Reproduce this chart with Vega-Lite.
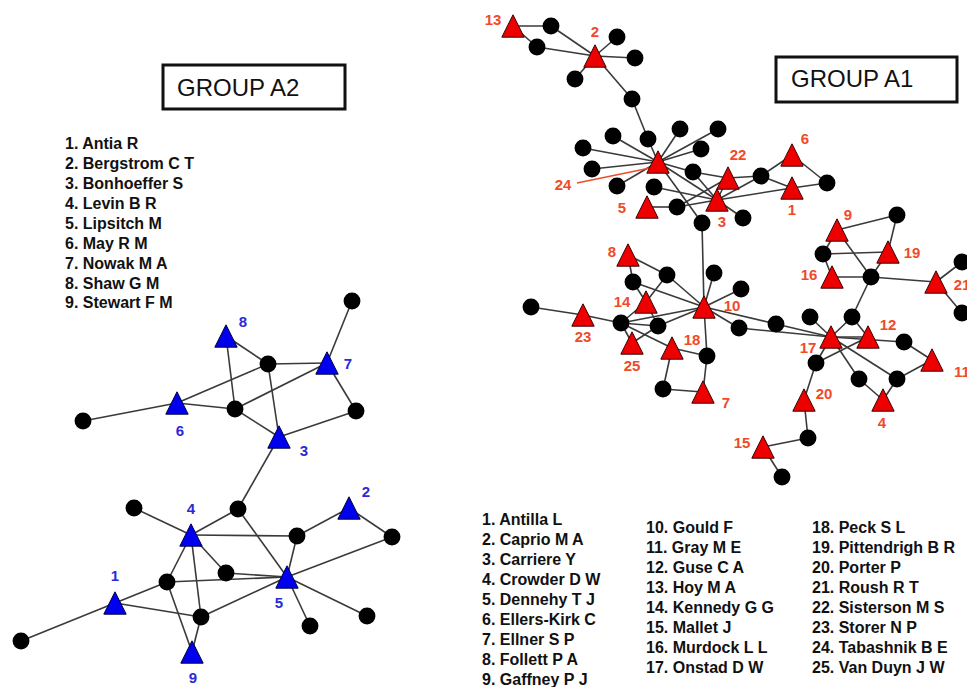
{
  "$schema": "https://vega.github.io/schema/vega-lite/v6.json",
  "width": 967,
  "height": 687,
  "autosize": {"type": "none"},
  "padding": 0,
  "background": "white",
  "config": {"view": {"stroke": null}, "axis": {"disable": true}},
  "datasets": {
    "nodes": [
      {"id": "b1", "x": 352, "y": 301, "k": "dot"},
      {"id": "bT8", "x": 226, "y": 336, "k": "A2"},
      {"id": "b2", "x": 268, "y": 364, "k": "dot"},
      {"id": "bT7", "x": 327, "y": 363, "k": "A2"},
      {"id": "bT6", "x": 177, "y": 403, "k": "A2"},
      {"id": "b3", "x": 235, "y": 409, "k": "dot"},
      {"id": "b4", "x": 356, "y": 411, "k": "dot"},
      {"id": "b5", "x": 83, "y": 421, "k": "dot"},
      {"id": "bT3", "x": 279, "y": 437, "k": "A2"},
      {"id": "b6", "x": 238, "y": 509, "k": "dot"},
      {"id": "bT2", "x": 349, "y": 508, "k": "A2"},
      {"id": "b7", "x": 134, "y": 508, "k": "dot"},
      {"id": "bT4", "x": 191, "y": 535, "k": "A2"},
      {"id": "b8", "x": 297, "y": 536, "k": "dot"},
      {"id": "b9", "x": 392, "y": 537, "k": "dot"},
      {"id": "b10", "x": 226, "y": 573, "k": "dot"},
      {"id": "bT5", "x": 287, "y": 577, "k": "A2"},
      {"id": "b11", "x": 167, "y": 582, "k": "dot"},
      {"id": "bT1", "x": 115, "y": 603, "k": "A2"},
      {"id": "b12", "x": 201, "y": 617, "k": "dot"},
      {"id": "b13", "x": 367, "y": 616, "k": "dot"},
      {"id": "b14", "x": 310, "y": 626, "k": "dot"},
      {"id": "b15", "x": 21, "y": 641, "k": "dot"},
      {"id": "bT9", "x": 192, "y": 652, "k": "A2"},
      {"id": "rT13", "x": 513, "y": 26, "k": "A1"},
      {"id": "r1", "x": 551, "y": 26, "k": "dot"},
      {"id": "r2", "x": 537, "y": 47, "k": "dot"},
      {"id": "rT2", "x": 595, "y": 56, "k": "A1"},
      {"id": "r3", "x": 617, "y": 37, "k": "dot"},
      {"id": "r4", "x": 635, "y": 58, "k": "dot"},
      {"id": "r5", "x": 575, "y": 79, "k": "dot"},
      {"id": "r6", "x": 632, "y": 99, "k": "dot"},
      {"id": "r7", "x": 648, "y": 139, "k": "dot"},
      {"id": "rT24", "x": 658, "y": 162, "k": "A1"},
      {"id": "r8", "x": 613, "y": 136, "k": "dot"},
      {"id": "r9", "x": 583, "y": 148, "k": "dot"},
      {"id": "r10", "x": 592, "y": 169, "k": "dot"},
      {"id": "r11", "x": 617, "y": 186, "k": "dot"},
      {"id": "r12", "x": 680, "y": 129, "k": "dot"},
      {"id": "r13", "x": 718, "y": 129, "k": "dot"},
      {"id": "r14", "x": 701, "y": 149, "k": "dot"},
      {"id": "r15", "x": 693, "y": 172, "k": "dot"},
      {"id": "r16", "x": 654, "y": 187, "k": "dot"},
      {"id": "rT5", "x": 647, "y": 207, "k": "A1"},
      {"id": "r17", "x": 677, "y": 207, "k": "dot"},
      {"id": "rT22", "x": 728, "y": 178, "k": "A1"},
      {"id": "rT3", "x": 717, "y": 200, "k": "A1"},
      {"id": "r18", "x": 702, "y": 223, "k": "dot"},
      {"id": "r19", "x": 743, "y": 218, "k": "dot"},
      {"id": "r20", "x": 761, "y": 176, "k": "dot"},
      {"id": "rT6", "x": 792, "y": 155, "k": "A1"},
      {"id": "rT1", "x": 792, "y": 188, "k": "A1"},
      {"id": "r21", "x": 827, "y": 183, "k": "dot"},
      {"id": "rT8", "x": 628, "y": 255, "k": "A1"},
      {"id": "r22", "x": 633, "y": 282, "k": "dot"},
      {"id": "r23", "x": 667, "y": 275, "k": "dot"},
      {"id": "r24", "x": 714, "y": 273, "k": "dot"},
      {"id": "r25", "x": 741, "y": 289, "k": "dot"},
      {"id": "rT14", "x": 646, "y": 302, "k": "A1"},
      {"id": "rT10", "x": 704, "y": 307, "k": "A1"},
      {"id": "r26", "x": 531, "y": 307, "k": "dot"},
      {"id": "rT23", "x": 583, "y": 315, "k": "A1"},
      {"id": "r27", "x": 621, "y": 323, "k": "dot"},
      {"id": "r28", "x": 658, "y": 326, "k": "dot"},
      {"id": "rT25", "x": 632, "y": 343, "k": "A1"},
      {"id": "rT18", "x": 672, "y": 348, "k": "A1"},
      {"id": "r29", "x": 739, "y": 328, "k": "dot"},
      {"id": "r30", "x": 776, "y": 324, "k": "dot"},
      {"id": "r31", "x": 707, "y": 356, "k": "dot"},
      {"id": "r32", "x": 663, "y": 389, "k": "dot"},
      {"id": "rT7", "x": 703, "y": 392, "k": "A1"},
      {"id": "rT17", "x": 831, "y": 337, "k": "A1"},
      {"id": "r33", "x": 810, "y": 317, "k": "dot"},
      {"id": "r34", "x": 852, "y": 317, "k": "dot"},
      {"id": "rT12", "x": 868, "y": 337, "k": "A1"},
      {"id": "r35", "x": 904, "y": 342, "k": "dot"},
      {"id": "rT11", "x": 932, "y": 360, "k": "A1"},
      {"id": "r36", "x": 816, "y": 363, "k": "dot"},
      {"id": "r37", "x": 859, "y": 379, "k": "dot"},
      {"id": "r38", "x": 897, "y": 379, "k": "dot"},
      {"id": "rT4", "x": 883, "y": 400, "k": "A1"},
      {"id": "rT20", "x": 804, "y": 400, "k": "A1"},
      {"id": "r39", "x": 808, "y": 438, "k": "dot"},
      {"id": "rT15", "x": 763, "y": 447, "k": "A1"},
      {"id": "r40", "x": 782, "y": 477, "k": "dot"},
      {"id": "rT9", "x": 837, "y": 230, "k": "A1"},
      {"id": "r41", "x": 897, "y": 215, "k": "dot"},
      {"id": "rT19", "x": 888, "y": 252, "k": "A1"},
      {"id": "r42", "x": 823, "y": 254, "k": "dot"},
      {"id": "rT16", "x": 832, "y": 277, "k": "A1"},
      {"id": "r43", "x": 871, "y": 277, "k": "dot"},
      {"id": "rT21", "x": 936, "y": 282, "k": "A1"},
      {"id": "r44", "x": 962, "y": 262, "k": "dot"},
      {"id": "r45", "x": 962, "y": 313, "k": "dot"}
    ],
    "edges": [
      {"s": "b1", "t": "bT7"}, {"s": "bT8", "t": "b2"}, {"s": "bT8", "t": "b3"}, {"s": "b2", "t": "bT7"},
      {"s": "b2", "t": "bT6"}, {"s": "b2", "t": "bT3"}, {"s": "bT7", "t": "b3"}, {"s": "bT7", "t": "b4"},
      {"s": "bT6", "t": "b5"}, {"s": "bT6", "t": "b3"}, {"s": "b3", "t": "bT3"}, {"s": "bT3", "t": "b4"},
      {"s": "bT3", "t": "b6"}, {"s": "b6", "t": "bT4"}, {"s": "b6", "t": "bT5"}, {"s": "b7", "t": "bT4"},
      {"s": "bT4", "t": "b8"}, {"s": "b8", "t": "bT2"}, {"s": "bT2", "t": "b9"}, {"s": "b8", "t": "bT5"},
      {"s": "b9", "t": "bT5"}, {"s": "bT4", "t": "b10"}, {"s": "bT4", "t": "b11"}, {"s": "bT4", "t": "b12"},
      {"s": "b12", "t": "bT9"}, {"s": "b11", "t": "bT9"}, {"s": "b10", "t": "bT5"}, {"s": "b11", "t": "bT5"},
      {"s": "bT1", "t": "b11"}, {"s": "bT1", "t": "b12"}, {"s": "b12", "t": "bT5"}, {"s": "bT1", "t": "b15"},
      {"s": "bT5", "t": "b13"}, {"s": "bT5", "t": "b14"},
      {"s": "rT13", "t": "r1"}, {"s": "rT13", "t": "r2"}, {"s": "r1", "t": "rT2"}, {"s": "r2", "t": "rT2"},
      {"s": "rT2", "t": "r3"}, {"s": "rT2", "t": "r4"}, {"s": "rT2", "t": "r5"}, {"s": "rT2", "t": "r6"},
      {"s": "r6", "t": "r7"}, {"s": "r7", "t": "rT24"}, {"s": "rT24", "t": "r8"}, {"s": "rT24", "t": "r9"},
      {"s": "rT24", "t": "r10"}, {"s": "rT24", "t": "r11"}, {"s": "rT24", "t": "r12"}, {"s": "rT24", "t": "r13"},
      {"s": "rT24", "t": "r14"}, {"s": "rT24", "t": "r15"}, {"s": "rT24", "t": "r18"}, {"s": "rT24", "t": "rT3"},
      {"s": "r15", "t": "rT22"}, {"s": "r15", "t": "rT3"}, {"s": "r16", "t": "rT3"}, {"s": "rT5", "t": "r17"},
      {"s": "r17", "t": "rT3"}, {"s": "r17", "t": "rT22"}, {"s": "rT22", "t": "rT3"}, {"s": "rT22", "t": "r20"},
      {"s": "rT3", "t": "r20"}, {"s": "rT3", "t": "rT1"}, {"s": "rT3", "t": "r19"}, {"s": "r20", "t": "rT6"},
      {"s": "r20", "t": "rT1"}, {"s": "rT6", "t": "r21"}, {"s": "rT1", "t": "r21"},
      {"s": "r18", "t": "rT10"}, {"s": "rT8", "t": "r22"}, {"s": "rT8", "t": "r23"}, {"s": "r23", "t": "rT10"},
      {"s": "r23", "t": "rT14"}, {"s": "r22", "t": "rT10"}, {"s": "r22", "t": "rT14"}, {"s": "r24", "t": "rT10"},
      {"s": "r25", "t": "rT10"}, {"s": "rT23", "t": "r26"}, {"s": "rT23", "t": "r27"}, {"s": "r27", "t": "rT14"},
      {"s": "r27", "t": "rT10"}, {"s": "r27", "t": "r28"}, {"s": "r27", "t": "rT25"}, {"s": "r27", "t": "rT18"},
      {"s": "rT14", "t": "r28"}, {"s": "r28", "t": "rT10"}, {"s": "r28", "t": "rT25"}, {"s": "rT10", "t": "r29"},
      {"s": "rT10", "t": "r30"}, {"s": "r29", "t": "rT17"}, {"s": "r30", "t": "rT17"}, {"s": "rT10", "t": "r31"},
      {"s": "r31", "t": "rT7"}, {"s": "rT18", "t": "r31"}, {"s": "rT18", "t": "r32"}, {"s": "r32", "t": "rT7"},
      {"s": "rT17", "t": "r33"}, {"s": "rT17", "t": "r34"}, {"s": "r34", "t": "r43"}, {"s": "r34", "t": "rT12"},
      {"s": "rT17", "t": "rT12"}, {"s": "rT17", "t": "r35"}, {"s": "r35", "t": "rT11"}, {"s": "rT17", "t": "r36"},
      {"s": "r36", "t": "rT12"}, {"s": "rT17", "t": "r37"}, {"s": "r37", "t": "rT4"}, {"s": "rT17", "t": "r38"},
      {"s": "r38", "t": "rT4"}, {"s": "r38", "t": "rT11"}, {"s": "r36", "t": "rT20"}, {"s": "rT20", "t": "r39"},
      {"s": "r39", "t": "rT15"}, {"s": "rT15", "t": "r40"},
      {"s": "rT9", "t": "r41"}, {"s": "r41", "t": "rT19"}, {"s": "rT9", "t": "r42"}, {"s": "rT9", "t": "r43"},
      {"s": "r42", "t": "rT19"}, {"s": "r42", "t": "rT16"}, {"s": "rT16", "t": "r43"}, {"s": "rT19", "t": "r43"},
      {"s": "r43", "t": "rT21"}, {"s": "rT21", "t": "r44"}, {"s": "rT21", "t": "r45"}
    ],
    "labels": [
      {"t": "8", "x": 243, "y": 322, "g": "A2"}, {"t": "7", "x": 348, "y": 364, "g": "A2"},
      {"t": "6", "x": 180, "y": 431, "g": "A2"}, {"t": "3", "x": 304, "y": 451, "g": "A2"},
      {"t": "2", "x": 366, "y": 492, "g": "A2"}, {"t": "4", "x": 191, "y": 509, "g": "A2"},
      {"t": "5", "x": 279, "y": 603, "g": "A2"}, {"t": "1", "x": 115, "y": 576, "g": "A2"},
      {"t": "9", "x": 193, "y": 678, "g": "A2"},
      {"t": "13", "x": 493, "y": 20, "g": "A1"}, {"t": "2", "x": 595, "y": 32, "g": "A1"},
      {"t": "24", "x": 563, "y": 185, "g": "A1"}, {"t": "22", "x": 738, "y": 155, "g": "A1"},
      {"t": "6", "x": 805, "y": 139, "g": "A1"}, {"t": "5", "x": 622, "y": 208, "g": "A1"},
      {"t": "3", "x": 722, "y": 222, "g": "A1"}, {"t": "1", "x": 792, "y": 210, "g": "A1"},
      {"t": "8", "x": 612, "y": 252, "g": "A1"}, {"t": "14", "x": 622, "y": 302, "g": "A1"},
      {"t": "10", "x": 732, "y": 306, "g": "A1"}, {"t": "23", "x": 583, "y": 337, "g": "A1"},
      {"t": "25", "x": 632, "y": 366, "g": "A1"}, {"t": "18", "x": 692, "y": 340, "g": "A1"},
      {"t": "7", "x": 726, "y": 403, "g": "A1"}, {"t": "17", "x": 808, "y": 348, "g": "A1"},
      {"t": "12", "x": 888, "y": 325, "g": "A1"}, {"t": "11", "x": 962, "y": 372, "g": "A1"},
      {"t": "4", "x": 882, "y": 423, "g": "A1"}, {"t": "20", "x": 824, "y": 394, "g": "A1"},
      {"t": "15", "x": 742, "y": 443, "g": "A1"}, {"t": "9", "x": 848, "y": 215, "g": "A1"},
      {"t": "19", "x": 912, "y": 253, "g": "A1"}, {"t": "16", "x": 809, "y": 275, "g": "A1"},
      {"t": "21", "x": 962, "y": 285, "g": "A1"}
    ],
    "pointer": [{"x": 577, "y": 183, "x2": 650, "y2": 168}],
    "boxes": [
      {"x": 163, "y": 65, "x2": 345, "y2": 109},
      {"x": 776, "y": 57, "x2": 957, "y2": 102}
    ],
    "titles": [
      {"t": "GROUP A2", "x": 177, "y": 89},
      {"t": "GROUP A1", "x": 791, "y": 80}
    ],
    "lists": [
      {"t": "1. Antia R", "x": 65, "y": 144}, {"t": "2. Bergstrom C T", "x": 65, "y": 164},
      {"t": "3. Bonhoeffer S", "x": 65, "y": 184}, {"t": "4. Levin B R", "x": 65, "y": 204},
      {"t": "5. Lipsitch M", "x": 65, "y": 224}, {"t": "6. May R M", "x": 65, "y": 244},
      {"t": "7. Nowak M A", "x": 65, "y": 264}, {"t": "8. Shaw G M", "x": 65, "y": 284},
      {"t": "9. Stewart F M", "x": 65, "y": 303},
      {"t": "1. Antilla L", "x": 482, "y": 520}, {"t": "2. Caprio M A", "x": 482, "y": 540},
      {"t": "3. Carriere Y", "x": 482, "y": 560}, {"t": "4. Crowder D W", "x": 482, "y": 580},
      {"t": "5. Dennehy T J", "x": 482, "y": 600}, {"t": "6. Ellers-Kirk C", "x": 482, "y": 620},
      {"t": "7. Ellner S P", "x": 482, "y": 640}, {"t": "8. Follett P A", "x": 482, "y": 660},
      {"t": "9. Gaffney P J", "x": 482, "y": 680},
      {"t": "10. Gould F", "x": 646, "y": 528}, {"t": "11. Gray M E", "x": 646, "y": 548},
      {"t": "12. Guse C A", "x": 646, "y": 568}, {"t": "13. Hoy M A", "x": 646, "y": 588},
      {"t": "14. Kennedy G G", "x": 646, "y": 608}, {"t": "15. Mallet J", "x": 646, "y": 628},
      {"t": "16. Murdock L L", "x": 646, "y": 648}, {"t": "17. Onstad D W", "x": 646, "y": 668},
      {"t": "18. Peck S L", "x": 812, "y": 528}, {"t": "19. Pittendrigh B R", "x": 812, "y": 548},
      {"t": "20. Porter P", "x": 812, "y": 568}, {"t": "21. Roush R T", "x": 812, "y": 588},
      {"t": "22. Sisterson M S", "x": 812, "y": 608}, {"t": "23. Storer N P", "x": 812, "y": 628},
      {"t": "24. Tabashnik B E", "x": 812, "y": 648}, {"t": "25. Van Duyn J W", "x": 812, "y": 668}
    ]
  },
  "encoding": {
    "x": {"field": "x", "type": "quantitative", "scale": {"domain": [0, 967], "nice": false, "zero": false}, "axis": null},
    "y": {"field": "y", "type": "quantitative", "scale": {"domain": [0, 687], "nice": false, "zero": false, "reverse": true}, "axis": null}
  },
  "layer": [
    {
      "data": {"name": "edges"},
      "transform": [
        {"lookup": "s", "from": {"data": {"name": "nodes"}, "key": "id", "fields": ["x", "y"]}, "as": ["x", "y"]},
        {"lookup": "t", "from": {"data": {"name": "nodes"}, "key": "id", "fields": ["x", "y"]}, "as": ["x2", "y2"]}
      ],
      "mark": {"type": "rule", "color": "#3a3a3a", "strokeWidth": 1.6},
      "encoding": {"x2": {"field": "x2"}, "y2": {"field": "y2"}}
    },
    {
      "data": {"name": "pointer"},
      "mark": {"type": "rule", "color": "#f04a2a", "strokeWidth": 1.3},
      "encoding": {"x2": {"field": "x2"}, "y2": {"field": "y2"}}
    },
    {
      "data": {"name": "nodes"},
      "transform": [{"filter": "datum.k === 'dot'"}],
      "mark": {"type": "circle", "size": 285, "color": "#000000", "opacity": 1}
    },
    {
      "data": {"name": "nodes"},
      "transform": [{"filter": "datum.k === 'A1'"}],
      "mark": {"type": "point", "shape": "M0,-1L1,1L-1,1Z", "size": 500, "filled": true, "fill": "#ee0000", "stroke": "#3a0000", "strokeWidth": 1, "opacity": 1}
    },
    {
      "data": {"name": "nodes"},
      "transform": [{"filter": "datum.k === 'A2'"}],
      "mark": {"type": "point", "shape": "M0,-1L1,1L-1,1Z", "size": 500, "filled": true, "fill": "#0000ee", "stroke": "#00003a", "strokeWidth": 1, "opacity": 1}
    },
    {
      "data": {"name": "labels"},
      "transform": [{"filter": "datum.g === 'A1'"}],
      "mark": {"type": "text", "font": "Liberation Sans", "fontWeight": "bold", "fontSize": 15, "color": "#f04a2a", "align": "center", "baseline": "middle"},
      "encoding": {"text": {"field": "t"}}
    },
    {
      "data": {"name": "labels"},
      "transform": [{"filter": "datum.g === 'A2'"}],
      "mark": {"type": "text", "font": "Liberation Sans", "fontWeight": "bold", "fontSize": 15, "color": "#2a2ad8", "align": "center", "baseline": "middle"},
      "encoding": {"text": {"field": "t"}}
    },
    {
      "data": {"name": "boxes"},
      "mark": {"type": "rect", "fill": "white", "stroke": "#111111", "strokeWidth": 3},
      "encoding": {"x2": {"field": "x2"}, "y2": {"field": "y2"}}
    },
    {
      "data": {"name": "titles"},
      "mark": {"type": "text", "font": "Liberation Sans", "fontSize": 24, "color": "#111111", "align": "left", "baseline": "middle"},
      "encoding": {"text": {"field": "t"}}
    },
    {
      "data": {"name": "lists"},
      "mark": {"type": "text", "font": "Liberation Sans", "fontWeight": "bold", "fontSize": 16, "color": "#111111", "align": "left", "baseline": "middle"},
      "encoding": {"text": {"field": "t"}}
    }
  ]
}
